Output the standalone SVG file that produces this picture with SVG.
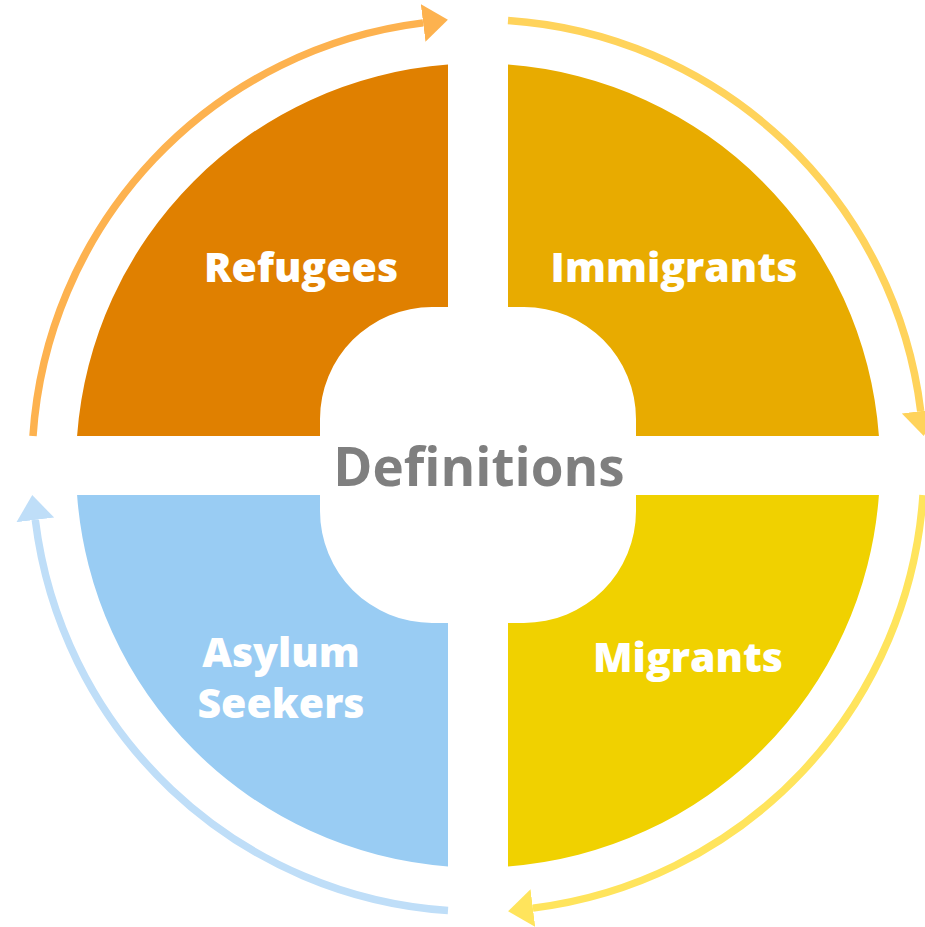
<svg xmlns="http://www.w3.org/2000/svg" width="925" height="927" viewBox="0 0 925 927">
<style>
.lbl{font-family:"Open Sans","Liberation Sans",sans-serif;font-weight:800;font-size:41px;fill:#FFFFFF;text-anchor:middle}
.ctr{font-family:"Open Sans","Liberation Sans",sans-serif;font-weight:700;font-size:53px;fill:#7F7F7F;text-anchor:middle}
.arc{fill:none;stroke-width:7.5}
</style>
<defs>
<marker id="mA" markerUnits="userSpaceOnUse" viewBox="0 -20 26 40" refX="0" refY="0" markerWidth="26" markerHeight="40" orient="auto"><path d="M0,-19 L25,0 L0,19 Z" fill="#FDB24F"/></marker>
<marker id="mB" markerUnits="userSpaceOnUse" viewBox="0 -20 26 40" refX="0" refY="0" markerWidth="26" markerHeight="40" orient="auto"><path d="M0,-19 L25,0 L0,19 Z" fill="#FFD35B"/></marker>
<marker id="mC" markerUnits="userSpaceOnUse" viewBox="0 -20 26 40" refX="0" refY="0" markerWidth="26" markerHeight="40" orient="auto"><path d="M0,-19 L25,0 L0,19 Z" fill="#FFE45C"/></marker>
<marker id="mD" markerUnits="userSpaceOnUse" viewBox="0 -20 26 40" refX="0" refY="0" markerWidth="26" markerHeight="40" orient="auto"><path d="M0,-19 L25,0 L0,19 Z" fill="#BFDEF8"/></marker>
</defs>
<rect width="925" height="927" fill="#FFFFFF"/>
<g id="connectors">
<path class="arc" stroke="#FDB24F" d="M32.98,436 A446,446 0 0 1 423.1,22.9" marker-end="url(#mA)"/>
<path class="arc" stroke="#FFD35B" d="M508,20.5 A446,446 0 0 1 920.7,411.1" marker-end="url(#mB)"/>
<path class="arc" stroke="#FFE45C" d="M923,495 A446,446 0 0 1 532.9,908.1" marker-end="url(#mC)"/>
<path class="arc" stroke="#BFDEF8" d="M448,910.5 A446,446 0 0 1 35.3,519.9" marker-end="url(#mD)"/>
</g>
<g id="refugees">
<path fill="#E08000" d="M77.08,436 A402,402 0 0 1 448,64.62 L448,307 L432,307 A112,112 0 0 0 320,419 L320,436 Z"/>
<text class="lbl" x="301" y="282">Refugees</text>
</g>
<g id="immigrants">
<path fill="#E8AB00" d="M508,64.62 A402,402 0 0 1 878.92,436 L636,436 L636,419 A112,112 0 0 0 524,307 L508,307 Z"/>
<text class="lbl" x="674" y="282">Immigrants</text>
</g>
<g id="migrants">
<path fill="#F0D100" d="M878.92,495 A402,402 0 0 1 508,866.38 L508,623 L524,623 A112,112 0 0 0 636,511 L636,495 Z"/>
<text class="lbl" x="688" y="672">Migrants</text>
</g>
<g id="asylum-seekers">
<path fill="#99CCF3" d="M448,866.38 A402,402 0 0 1 77.08,495 L320,495 L320,511 A112,112 0 0 0 432,623 L448,623 Z"/>
<text class="lbl" x="281" y="667">Asylum</text>
<text class="lbl" x="281" y="718">Seekers</text>
</g>
<g id="definitions">
<text class="ctr" x="479" y="486">Definitions</text>
</g>
</svg>
